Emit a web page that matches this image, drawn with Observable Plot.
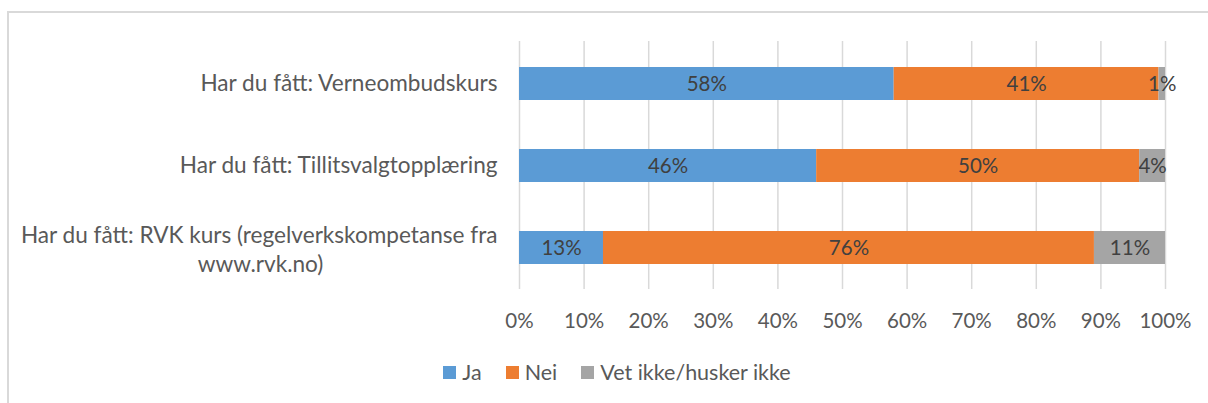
<!DOCTYPE html>
<html>
<head>
<meta charset="utf-8">
<script src="https://cdn.jsdelivr.net/npm/d3@7"></script>
<script src="https://cdn.jsdelivr.net/npm/@observablehq/plot@0.6"></script>
<style>
  html, body { margin: 0; padding: 0; background: #fff; width: 1208px; height: 403px; overflow: hidden; }
  body { position: relative; font-family: Lato, "Open Sans", sans-serif; }
  #frame { position: absolute; left: 7px; top: 11px; width: 1260px; height: 460px; border: 2px solid #d9d9d9; box-sizing: border-box; }
  #chart { position: absolute; left: 0; top: 0; }
  #legend { position: absolute; left: 0; width: 1234px; top: 359px; display: flex; justify-content: center; align-items: center; font-size: 21.5px; color: #595959; }
  .item { display: flex; align-items: center; margin: 0 12px; }
  .sw { width: 13px; height: 13px; margin-right: 6px; }
</style>
</head>
<body>
<div id="frame"></div>
<div id="chart"></div>
<div id="legend"></div>
<script>
const categories = [
  "Har du fått: Verneombudskurs",
  "Har du fått: Tillitsvalgtopplæring",
  "Har du fått: RVK kurs (regelverkskompetanse fra www.rvk.no)"
];
const labelLines = [
  ["Har du fått: Verneombudskurs"],
  ["Har du fått: Tillitsvalgtopplæring"],
  ["Har du fått: RVK kurs (regelverkskompetanse fra", "www.rvk.no)"]
];
const series = ["Ja", "Nei", "Vet ikke/husker ikke"];
const ja = [0.58, 0.46, 0.13];
const nei = [0.41, 0.50, 0.76];
const vet = [0.01, 0.04, 0.11];
const colors = ["#5b9bd5", "#ed7d31", "#a5a5a5"];
const xTicks = [0, 0.1, 0.2, 0.3, 0.4, 0.5, 0.6, 0.7, 0.8, 0.9, 1.0];

const values = [ja, nei, vet];
const data = [];
categories.forEach((c, i) => {
  series.forEach((s, j) => data.push({cat: c, series: s, value: values[j][i]}));
});

const singleLines = categories.filter((c, i) => labelLines[i].length === 1);
const multi = categories.map((c, i) => ({cat: c, lines: labelLines[i]})).filter(d => d.lines.length > 1);

const txt = "#595959";
const fs = 22.6;
const fsNum = 20.5;

const plot = Plot.plot({
  width: 1208,
  height: 345,
  marginLeft: 519,
  marginRight: 43,
  marginTop: 41,
  marginBottom: 56,
  style: {fontFamily: "Lato, 'Open Sans', sans-serif", fontSize: fs + "px", color: txt, background: "transparent"},
  x: {domain: [0, 1], ticks: xTicks, tickFormat: d3.format(".0%"), label: null},
  y: {domain: categories, paddingInner: 0.6, paddingOuter: 0.3, axis: null, label: null},
  color: {domain: series, range: colors},
  marks: [
    Plot.gridX(xTicks, {stroke: "#d9d9d9", strokeOpacity: 1, strokeWidth: 1.5}),
    Plot.axisX(xTicks, {tickSize: 0, tickPadding: 24, tickFormat: d3.format(".0%"), fill: txt, fontSize: fsNum, label: null}),
    Plot.barX(data, Plot.stackX({x: "value", y: "cat", fill: "series", order: series})),
    Plot.text(data, Plot.stackX({x: "value", y: "cat", z: "series", order: series, text: d => d3.format(".0%")(d.value), fill: "#404040", fontSize: fsNum})),
    Plot.text(singleLines, {y: d => d, text: d => d, frameAnchor: "left", textAnchor: "end", dx: -22, fill: txt, fontSize: fs}),
    Plot.text(multi, {y: "cat", text: d => d.lines[0], frameAnchor: "left", textAnchor: "end", dx: -22, dy: -12, fill: txt, fontSize: fs}),
    Plot.text(multi, {y: "cat", text: d => d.lines[1], frameAnchor: "left", textAnchor: "middle", dx: -259, dy: 17, fill: txt, fontSize: fs})
  ]
});
document.getElementById("chart").appendChild(plot);

const legend = document.getElementById("legend");
series.forEach((s, i) => {
  const it = document.createElement("div");
  it.className = "item";
  const sw = document.createElement("div");
  sw.className = "sw";
  sw.style.background = colors[i];
  const t = document.createElement("span");
  t.textContent = s;
  it.appendChild(sw); it.appendChild(t);
  legend.appendChild(it);
});
</script>
</body>
</html>
